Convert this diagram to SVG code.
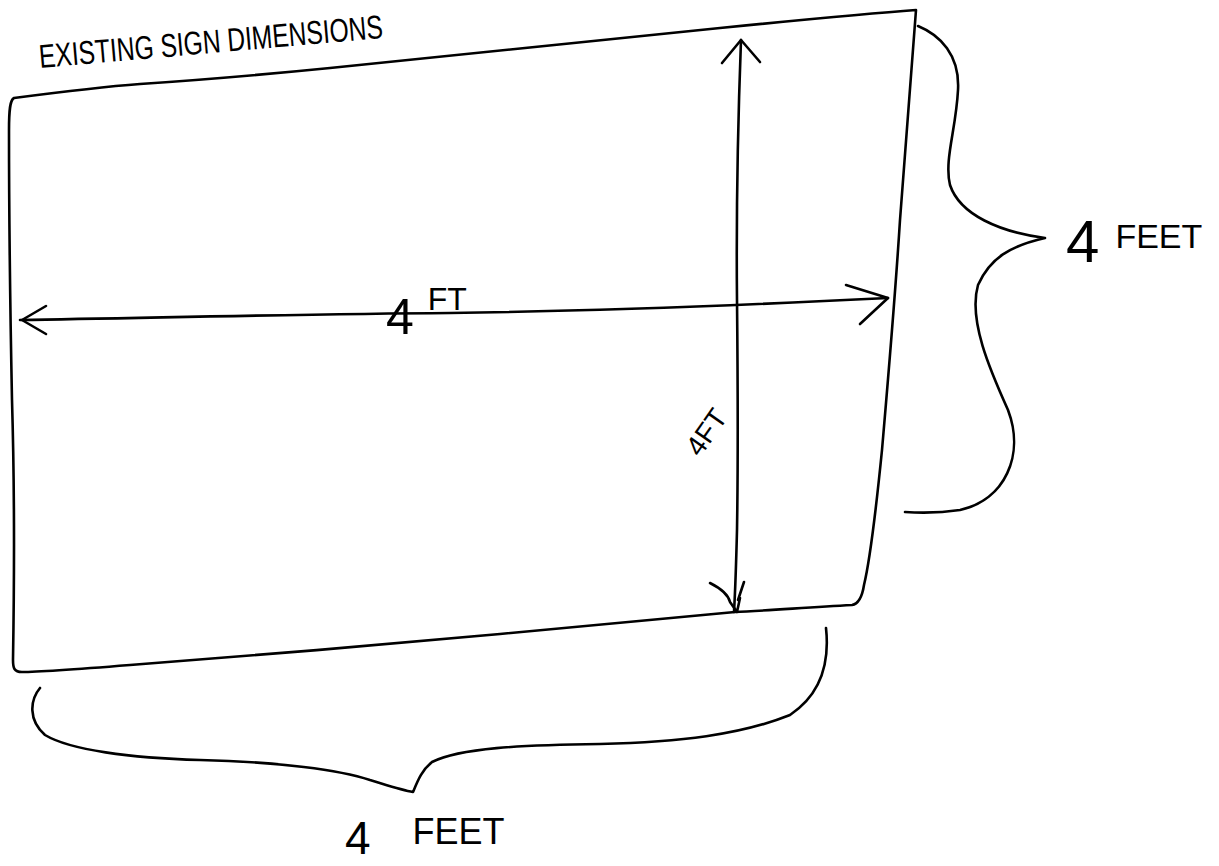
<svg xmlns="http://www.w3.org/2000/svg" width="1219" height="866" viewBox="0 0 1219 866">
<style>
.ink{fill:none;stroke:#000;stroke-width:2.6;stroke-linecap:round;stroke-linejoin:round}
.hand{font-family:"Liberation Sans","DejaVu Sans",sans-serif;fill:#000;font-weight:normal}
</style>
<rect width="1219" height="866" fill="#fff"/>
<g id="sign">
<path class="ink" d="M14,98 C60,92 100,87 140,84 C200,80 260,75 330,68 C450,56 600,40 720,28 C800,20 860,14 916,10 C912,60 906,140 900,220 C895,300 888,380 882,450 C876,510 870,560 864,585 C862,598 858,604 852,605 C800,608 760,611 735,612 C680,617 600,625 500,634 C380,645 250,656 130,665 C80,669 40,672 22,672 C14,672 13,668 13,660 C14,600 15,500 12,400 C10,300 9,200 9,130 C9,110 10,100 14,98 Z"/>
</g>
<g id="connectors">
<path class="ink" d="M20,320 C150,318 300,314 450,313 C600,311 750,305 888,298"/>
<path class="ink" d="M46,306 L22,320 L46,334"/>
<path class="ink" d="M846,285 L888,298 L860,324"/>
<path class="ink" d="M741,40 C738,120 736,200 737,300 C738,400 738,470 737,530 C736,570 735,595 734,612"/>
<path class="ink" d="M722,63 L741,40 L760,62"/>
<path class="ink" d="M710,583 C720,588 728,594 730,602 L737,612 L740,598 M738,600 L744,582"/>
<path class="ink" d="M918,26 C940,35 960,55 958,90 C956,130 944,160 950,185 C960,215 1000,232 1045,238 C1010,246 990,258 978,285 C968,320 990,370 1008,410 C1025,455 1005,500 960,510 C940,513 920,513 905,512"/>
<path class="ink" d="M40,688 C30,700 28,720 45,735 C70,750 130,758 200,760 C280,762 340,770 370,780 C390,786 402,790 413,792 C418,780 422,770 432,762 C460,748 520,745 600,744 C680,742 740,735 790,715 C820,695 830,665 826,628"/>
</g>
<g id="labels">
<text class="hand" x="40" y="68" font-size="33" textLength="345" lengthAdjust="spacingAndGlyphs" transform="rotate(-5 40 68)">EXISTING SIGN DIMENSIONS</text>
<text class="hand" x="386" y="334" font-size="50">4<tspan font-size="32" dx="14" dy="-24">FT</tspan></text>
<text class="hand" x="700" y="458" font-size="28" transform="rotate(-55 700 458)">4FT</text>
<text class="hand" x="1066" y="262" font-size="60">4<tspan font-size="34" dx="16" dy="-14">FEET</tspan></text>
<text class="hand" x="345" y="854" font-size="46">4<tspan font-size="36" dx="42" dy="-10">FEET</tspan></text>
</g>
</svg>
